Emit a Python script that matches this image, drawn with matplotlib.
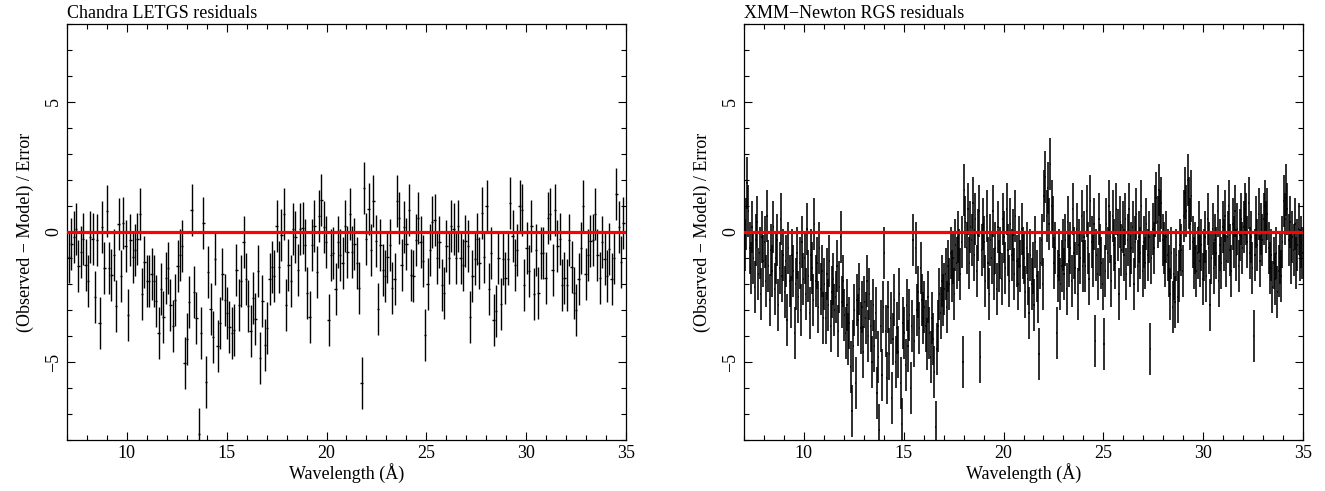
import numpy as np
import matplotlib
matplotlib.use("Agg")
import matplotlib.pyplot as plt
from matplotlib.ticker import MultipleLocator

plt.rcParams['font.family'] = ['Liberation Serif', 'DejaVu Serif']

# Chandra LETGS residuals, read left to right (bins ~0.118 A wide)
chandra_lo, chandra_hi = 7.10, 34.87
chandra_res = [
    -0.95, -0.45, -0.2, 0.1, -1.3, -0.75, -0.25, -1.25, -1.9, -0.2, -0.25, -2.5, -0.3, -3.5, 0.2,
    -1.4, 0.8, -1.4, -1.65, -0.9, -2.85, 0.3, -1.7, 0.35, -0.55, -3.2, -0.3, -0.95, -0.7, -0.25,
    0.7, -2.4, -1.15, -1.9, -1.9, -1.6, -1.9, -2.65, -3.9, -2.2, -3.25, -1.75, -1.4, -2.8, -3.6,
    -2.6, -1.3, -0.9, -0.55, -5.05, -4.1, -2.7, 0.85, -2.3, -3.3, -7.75, -3.9, 0.35, -5.75, -1.55,
    -2.95, -4.05, -1.05, -4.4, -3.5, -1.6, -2.6, -3.1, -3.65, -3.9, -3.75, -1.45, -2.8, -1.9, -0.4,
    -1.8, -2.85, -3.8, -2.55, -3.35, -1.5, -4.85, -2.65, -4.35, -3.7, -1.8, -1.35, -1.7, 0.25, -1.35,
    -0.1, 0.7, -2.8, -1.25, -1.9, 0.1, -0.2, -1.45, 0.1, 0.15, -0.5, -2.35, -3.25, -0.5, 0.25,
    -1.55, 0.6, 1.25, 0.2, -0.4, -3.4, -0.9, -0.8, -2.2, -0.4, -0.9, -1.2, 0.25, -0.75,
    0.7, -0.75, -0.45, -1.2, -2.15, -5.8, 1.7, -0.25, 0.9, -0.7, 1.2, -0.35, -2.95, -0.5, -1.45,
    -1.7, -0.95, -0.5, -2.15, -1.8, 1.2, 0.55, -1.25, 0.2, -0.45, 0.85, -1.65, -1.7, -0.3, 0.55,
    -0.4, -1.1, -3.95, -2.0, -0.7, 0.4, 0.45, -1.0, -0.4, -2.05, -2.35, -0.55, -1.0, 0.25, 0.1,
    -1.0, 0.25, -1.0, -1.25, -0.35, -0.55, -3.25, -1.7, -1.05, -0.25, -1.2, 0.75, -0.95, 1.0,
    -2.2, -0.8, -3.4, -3.05, -1.0, -2.75, -1.05, -1.75, -1.05, 1.1, -0.15, -1.25, -0.7, 1.0, 0.85,
    -2.05, -0.6, -1.5, 0.25, -2.4, -0.7, -2.35, -0.8, -0.8, -1.75, 0.55, 0.7, -1.45, 0.85, -0.55,
    -0.25, -2.05, -1.75, -2.05, -0.3, -1.35, -2.35, -3.0, -1.8, -0.6, 1.0, -1.6, -0.9, -0.35, -0.3,
    0.7, -0.9, -1.75, -0.4, -1.05, -1.7, -0.65, -1.8, -1.0, 1.45, 0.2, -1.15, 0.35,
]

# XMM-Newton RGS residuals, 16 bins per Angstrom from 7 to 35 A
xmm_lo, xmm_hi = 7.0, 35.0
xmm_res = [
    -0.5, 0.3, 1.9, 0.8, -0.6, -1.4, 0.2, -1.0, -2.1, -0.3, 0.4, -1.6, -0.8, -2.4, -0.2, -1.1,
    -0.4, -1.9, 0.6, -1.3, -2.6, -0.7, -1.5, 0.2, -2.2, -1.0, -0.3, -2.8, -1.4, 0.5, -1.7, -0.9,
    -2.3, -1.1, -3.4, -0.6, -1.9, -2.7, -0.9, -1.5, -3.9, -2.0, -0.8, -2.5, -1.2, -3.0, -0.4, -1.8,
    -1.0, -2.4, 0.1, -1.7, -3.1, -0.9, -1.4, -2.6, 0.3, -1.9, -1.2, -2.9, -0.6, -2.2, -1.5, -3.3,
    -2.0, -3.3, -1.6, -2.8, -1.1, -3.6, -2.3, -1.8, -3.0, -2.5, -1.3, -3.8, -2.1, -0.2, -2.7, -1.9,
    -3.2, -3.9, -2.8, -4.1, -3.5, -5.2, -6.9, -4.4, -3.0, -5.8, -2.6, -3.4, -2.2, -3.7, -2.9, -4.6,
    -2.7, -3.3, -1.9, -4.0, -2.4, -3.6, -5.0, -2.8, -4.4, -3.1, -6.2, -4.8, -7.6, -3.6, -5.5, -2.9,
    -0.8, -3.8, -5.6, -2.9, -4.7, -3.3, -6.4, -4.1, -2.6, -5.0, -3.7, -4.6, -2.4, -5.8, -7.4, -3.5,
    -3.9, -5.1, -2.8, -4.4, -3.2, -6.0, -3.6, -0.3, -4.2, -0.6, -3.0, -2.3, -3.7, -1.4, -2.6, -3.3,
    -2.9, -3.6, -4.3, -2.5, -3.9, -4.8, -3.3, -4.1, -5.4, -7.5, -4.5, -3.6, -2.4, -3.1, -1.9, -2.6,
    -2.2, -1.6, -2.9, -1.3, -2.0, -0.8, -1.7, -1.0, -2.4, -0.5, -1.2, -0.2, -0.9, -1.6, -0.4, -5.0,
    1.6, 0.4, -0.6, 0.9, -1.2, 0.2, -0.3, 1.1, -0.9, 0.5, -1.5, -0.1, 0.8, -4.8, -0.7, 0.3,
    -0.4, -1.9, 0.6, -1.2, -2.4, -0.3, -1.0, 0.8, -1.6, -0.6, -2.2, 0.2, -1.3, -0.8, -1.8, 0.5,
    -0.2, -1.4, 0.9, -0.7, -1.9, 0.3, -0.9, -0.1, -1.6, 0.6, -1.1, -2.0, -0.4, -1.3, 0.1, -0.8,
    -1.0, -2.3, -0.6, -1.8, -3.1, -0.9, -2.0, -1.4, -2.8, -0.4, -1.7, -2.5, -4.7, -1.2, -0.3, -2.0,
    1.4, 2.1, 0.6, 1.7, 0.3, 2.6, 1.0, 0.4, -1.2, -0.6, -3.9, -1.7, -0.9, -2.0, -1.3, -0.5,
    -1.6, -0.3, -2.2, 0.4, -1.1, -0.6, -1.9, 0.9, -0.8, -1.4, 0.1, -2.4, -0.5, -1.0, 0.6, -1.3,
    -0.2, -1.3, 0.8, -0.6, -1.8, 1.2, -0.4, -1.1, 0.3, -4.2, -0.9, -1.6, 0.5, -0.7, -1.2, -2.0,
    -4.3, -1.5, 0.3, -0.8, 1.0, -0.2, -1.9, 0.6, -0.5, -1.2, 0.9, -0.1, -2.4, 0.4, -0.7, 0.2,
    -0.9, 0.5, -1.6, -0.3, 0.9, -1.1, -0.6, 0.2, -2.0, -0.4, 0.7, -1.3, -0.2, -0.8, 1.0, -1.5,
    -0.4, -1.2, 0.3, -0.9, -0.2, -4.5, -1.0, 0.1, -0.6, 0.8, 1.3, 0.4, 1.6, 0.6, 1.1, -0.3,
    -0.6, -1.1, -0.2, -0.9, -1.5, -2.4, -0.8, -2.9, -1.6, -2.7, -0.9, -2.5, -1.7, -0.5, -0.7, -1.5,
    0.6, 1.5, 0.8, 2.0, 1.1, 0.3, 1.4, -0.4, -1.2, -0.6, -1.5, -0.8, 0.2, -1.1, -0.5, -1.8,
    -0.9, -0.2, -1.7, 0.5, -0.6, -2.8, -1.0, 0.1, -1.4, -0.3, -0.8, 0.8, -1.9, -0.5, -1.2, 0.2,
    -0.5, 0.6, -1.1, -0.2, 1.0, -0.7, -1.5, 0.3, -0.4, 0.8, -0.9, 0.1, -1.3, -0.1, 0.5, -0.6,
    0.2, 0.9, 0.5, -0.4, 1.1, -0.8, -0.2, -1.4, -4.0, -0.9, 0.4, -0.5, 0.7, -1.1, 0.1, -0.3,
    0.5, 1.0, 0.2, 0.7, -0.6, -1.4, -0.9, -2.1, -1.2, -1.8, -0.8, -2.3, -1.5, -1.0, -1.7, -0.4,
    1.2, 0.5, 1.6, 0.9, -0.3, 0.4, -1.0, -0.2, -0.7, 0.3, -1.2, -0.5, 0.1, -0.9, -0.4, -0.8,
]

titles = ["Chandra LETGS residuals", "XMM\u2212Newton RGS residuals"]

chandra_wl = np.linspace(chandra_lo, chandra_hi, len(chandra_res))
n_xmm = len(xmm_res)
step = (xmm_hi - xmm_lo) / n_xmm
xmm_wl = xmm_lo + step * (np.arange(n_xmm) + 0.5)

fig = plt.figure(figsize=(13.25, 4.91), dpi=100)
ax1 = fig.add_axes([67 / 1325, 1 - 440 / 491, 559 / 1325, 416 / 491])
ax2 = fig.add_axes([744 / 1325, 1 - 440 / 491, 559 / 1325, 416 / 491])

sets = [(ax1, chandra_wl, chandra_res, (chandra_hi - chandra_lo) / (len(chandra_res) - 1), 1.0),
        (ax2, xmm_wl, xmm_res, step, 1.15)]

for (ax, wl, res, w, lw), title in zip(sets, titles):
    ax.errorbar(wl, res, yerr=1.0, xerr=w / 2, fmt='none', ecolor='black',
                elinewidth=lw, capsize=0, zorder=2)
    ax.axhline(0, color='red', lw=2.3, zorder=3)
    ax.set_xlim(7, 35)
    ax.set_ylim(-8, 8)
    ax.xaxis.set_major_locator(MultipleLocator(5))
    ax.xaxis.set_minor_locator(MultipleLocator(1))
    ax.yaxis.set_major_locator(MultipleLocator(5))
    ax.yaxis.set_minor_locator(MultipleLocator(1))
    ax.tick_params(which='both', direction='in', top=True, right=True, labelsize=13, width=0.8)
    ax.tick_params(which='major', length=6)
    ax.tick_params(which='minor', length=3.5)
    for lab in ax.get_yticklabels():
        lab.set_rotation(90)
        lab.set_va('center')
    for sp in ax.spines.values():
        sp.set_linewidth(0.9)
    ax.set_xlabel("Wavelength (\u00c5)", fontsize=13, labelpad=1)
    ax.set_ylabel("(Observed \u2212 Model) / Error", fontsize=13, labelpad=8)
    ax.set_title(title, fontsize=13, loc='left', pad=4)

fig.savefig("out.png", dpi=100)
